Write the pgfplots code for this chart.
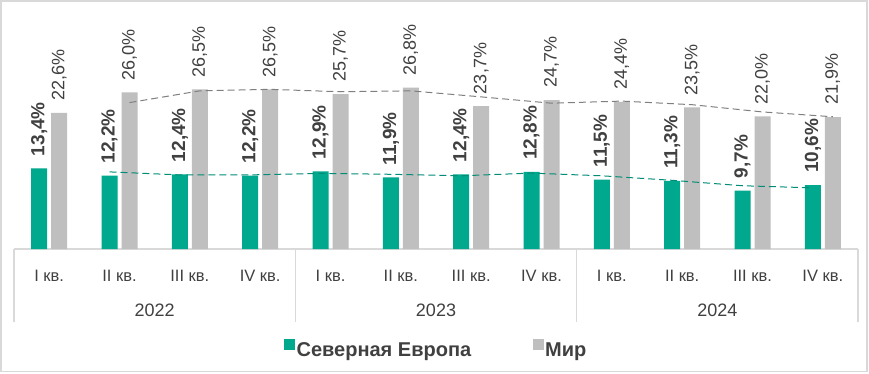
\documentclass[border=0pt]{standalone}
\usepackage{graphicx}
\usepackage{pgfplots}
\pgfplotsset{compat=1.18}
\usepackage{fontspec}
\setmainfont{Liberation Sans}
\definecolor{sgreen}{RGB}{0,168,142}
\definecolor{sgray}{RGB}{191,191,191}
\definecolor{txt}{RGB}{64,64,64}
\definecolor{framec}{RGB}{217,217,217}
\definecolor{tgreen}{RGB}{0,140,118}
\definecolor{tgray}{RGB}{127,127,127}
\pgfplotsset{
  vlabel/.style={forget plot, draw=none, mark=none,
    nodes near coords={\rotatebox{90}{\pgfmathprintnumber[fixed, fixed zerofill, precision=1, use comma, assume math mode=true]{\pgfplotspointmeta}\%}},
    every node near coord/.style={anchor=south, inner sep=0pt, yshift=12pt, text=txt, font=#1}},
}
\begin{document}
\begin{tikzpicture}
\useasboundingbox (-14pt,-124pt) rectangle (855pt,249pt);
\draw[framec, line width=1.5pt] (-13pt,-122.5pt) rectangle (853pt,248pt);
\begin{axis}[
  at={(0pt,0pt)}, anchor=south west,
  scale only axis, width=844pt, height=241pt,
  xmin=-0.5, xmax=11.5, ymin=0, ymax=40,
  axis x line=bottom, axis y line=none,
  x axis line style={-, draw=framec, line width=1.5pt},
  ytick=\empty,
  xtick={0,...,11},
  xticklabels={I кв.,II кв.,III кв.,IV кв.,I кв.,II кв.,III кв.,IV кв.,I кв.,II кв.,III кв.,IV кв.},
  major tick length=0pt,
  xticklabel style={anchor=base, yshift=-32pt, font=\fontsize{16.5}{18}\selectfont, text=txt},
  clip=false,
  legend columns=2,
  legend style={at={(0.5,0)}, anchor=center, yshift=-100.5pt, draw=none, fill=none,
    font=\bfseries\fontsize{20}{24}\selectfont, text=txt,
    nodes={inner xsep=1.5pt},
    /tikz/every even column/.append style={column sep=60pt}},
]
\addplot[ybar, bar width=16pt, bar shift=-10pt, fill=sgreen, draw=none,
  legend image code/.code={\fill[sgreen] (0pt,-0.5pt) rectangle (11pt,10.5pt);}]
  coordinates {(0,13.4) (1,12.2) (2,12.4) (3,12.2) (4,12.9) (5,11.9) (6,12.4) (7,12.8) (8,11.5) (9,11.3) (10,9.7) (11,10.6)};
\addlegendentry{Северная Европа}
\addplot[ybar, bar width=16pt, bar shift=10pt, fill=sgray, draw=none,
  legend image code/.code={\fill[sgray] (0pt,-0.5pt) rectangle (11pt,10.5pt);}]
  coordinates {(0,22.6) (1,26.0) (2,26.5) (3,26.5) (4,25.7) (5,26.8) (6,23.7) (7,24.7) (8,24.4) (9,23.5) (10,22.0) (11,21.9)};
\addlegendentry{Мир}
% 2-period moving averages (trend lines)
\addplot[forget plot, sharp plot, tgreen, line width=1pt, dash pattern=on 7pt off 4pt]
  coordinates {(0.858,12.8) (1.858,12.3) (2.858,12.3) (3.858,12.55) (4.858,12.4) (5.858,12.15) (6.858,12.6) (7.858,12.15) (8.858,11.4) (9.858,10.5) (10.858,10.15)};
\addplot[forget plot, sharp plot, tgray, line width=1pt, dash pattern=on 7pt off 4pt]
  coordinates {(1.142,24.3) (2.142,26.25) (3.142,26.5) (4.142,26.1) (5.142,26.25) (6.142,25.25) (7.142,24.2) (8.142,24.55) (9.142,23.95) (10.142,22.75) (11.142,21.95)};
% value labels, placed over the bar centres
\addplot[vlabel={\bfseries\fontsize{19}{22}\selectfont}]
  coordinates {(-0.142,13.4) (0.858,12.2) (1.858,12.4) (2.858,12.2) (3.858,12.9) (4.858,11.9) (5.858,12.4) (6.858,12.8) (7.858,11.5) (8.858,11.3) (9.858,9.7) (10.858,10.6)};
\addplot[vlabel={\fontsize{18}{21}\selectfont}]
  coordinates {(0.142,22.6) (1.142,26.0) (2.142,26.5) (3.142,26.5) (4.142,25.7) (5.142,26.8) (6.142,23.7) (7.142,24.7) (8.142,24.4) (9.142,23.5) (10.142,22.0) (11.142,21.9)};
\draw[framec, line width=1.5pt] (axis cs:-0.5,0) -- ([yshift=-73pt]axis cs:-0.5,0);
\draw[framec, line width=1.5pt] (axis cs:3.5,0) -- ([yshift=-73pt]axis cs:3.5,0);
\draw[framec, line width=1.5pt] (axis cs:7.5,0) -- ([yshift=-73pt]axis cs:7.5,0);
\draw[framec, line width=1.5pt] (axis cs:11.5,0) -- ([yshift=-73pt]axis cs:11.5,0);
\node[anchor=base, text=txt, font=\fontsize{18}{21}\selectfont] at ([yshift=-67pt]axis cs:1.5,0) {2022};
\node[anchor=base, text=txt, font=\fontsize{18}{21}\selectfont] at ([yshift=-67pt]axis cs:5.5,0) {2023};
\node[anchor=base, text=txt, font=\fontsize{18}{21}\selectfont] at ([yshift=-67pt]axis cs:9.5,0) {2024};
\end{axis}
\end{tikzpicture}
\end{document}
